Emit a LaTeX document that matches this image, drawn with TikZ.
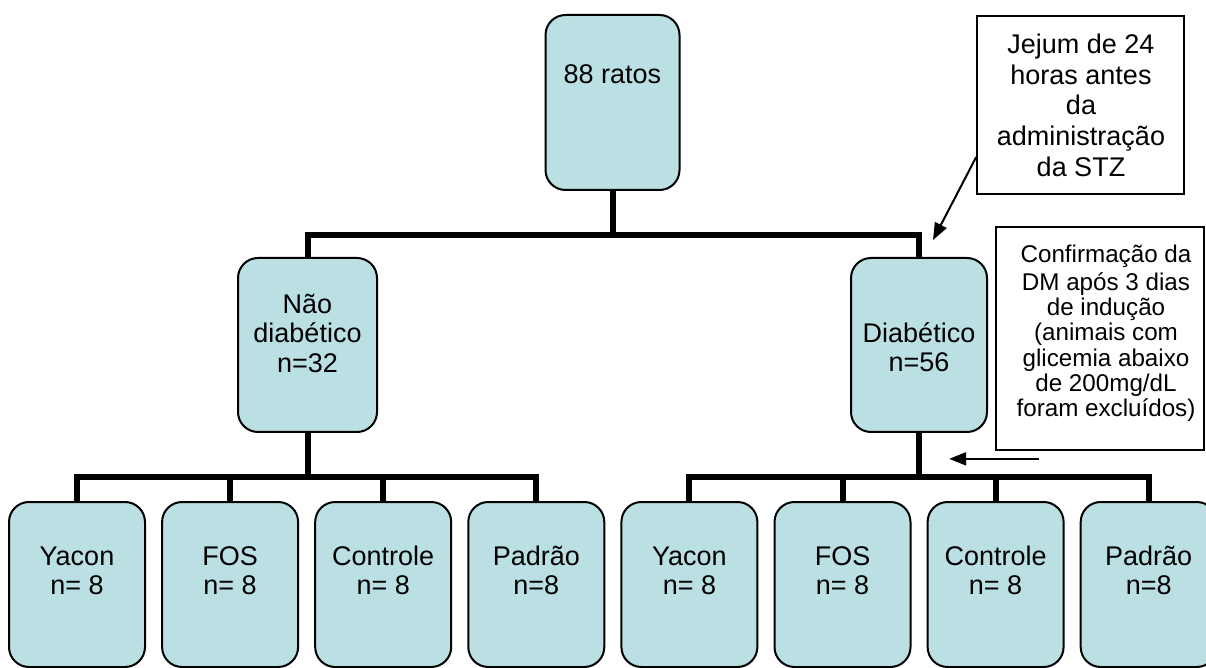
\documentclass[tikz,border=0pt]{standalone}
\usepackage{fontspec}
\setmainfont{Liberation Sans}
\usetikzlibrary{arrows.meta, calc, positioning}

\definecolor{boxfill}{RGB}{187,224,227}

\begin{document}
\begin{tikzpicture}[x=0.5pt, y=-0.5pt,
    grupo/.style={draw, line width=1pt, fill=boxfill, rounded corners=10pt, inner sep=0pt},
    rotulo/.style={anchor=north, align=center, inner sep=0pt, font=\fontsize{13.5}{14.75}\selectfont},
    nota/.style={draw, line width=0.85pt, inner sep=0pt},
    ligacao/.style={line width=3pt},
    seta/.style={line width=1pt, -{Triangle[length=8.5pt, width=6.5pt]}}]

    % Define the size of the group boxes
    \def\largura{68pt}
    \def\passo{153.1}

    % Fix the page and cut what goes past it
    \useasboundingbox (0,0) rectangle (1206,668);
    \clip (0,0) rectangle (1206,668);
    \fill[white] (0,0) rectangle (1206,668);

    % Draw the top box
    \node[grupo, minimum width=67pt, minimum height=87.5pt] (ratos) at (612.5,102.5) {};
    \node[rotulo] (ratos-txt) at (612.5,62.4) {\strut 88 ratos};

    % Draw the two middle boxes
    \node[grupo, minimum width=69.5pt, minimum height=87pt] (naod) at (307.5,345) {};
    \node[rotulo] (naod-txt) at (307.5,292.4) {\strut Não\\diabético\\n=32};
    \node[grupo, minimum width=\largura, minimum height=87pt] (diab) at (919,345) {};
    \node[rotulo] (diab-txt) at (919,321.4) {\strut Diabético\\n=56};

    % Draw the eight group boxes
    \foreach \i/\nome/\num in {1/Yacon/n= 8, 2/FOS/n= 8, 3/Controle/n= 8, 4/Padrão/n=8,
                               5/Yacon/n= 8, 6/FOS/n= 8, 7/Controle/n= 8, 8/Padrão/n=8} {
        \node[grupo, minimum width=\largura, minimum height=82.5pt] (g\i) at ({77+\passo*(\i-1)},584.5) {};
        \node[rotulo] (g\i-txt) at ({77+\passo*(\i-1)},544.4) {\strut\nome\\\num};
    }

    % Draw the tree lines
    \coordinate (topo) at (612.5,235);
    \coordinate (esq) at (307.5,477);
    \coordinate (dir) at (919,477);
    \draw[ligacao] (ratos.south) -- (topo);
    \draw[ligacao] (naod.north) |- (topo) -| (diab.north);
    \draw[ligacao] (naod.south) -- (esq);
    \draw[ligacao] (g1.north) |- (esq) -| (g4.north);
    \draw[ligacao] (g2.north) -- (g2.north |- esq);
    \draw[ligacao] (g3.north) -- (g3.north |- esq);
    \draw[ligacao] (diab.south) -- (dir);
    \draw[ligacao] (g5.north) |- (dir) -| (g8.north);
    \draw[ligacao] (g6.north) -- (g6.north |- dir);
    \draw[ligacao] (g7.north) -- (g7.north |- dir);

    % Draw the note boxes
    \node[nota, minimum width=103.5pt, minimum height=89pt] (jejum) at (1080.5,105) {};
    \node[rotulo, font=\fontsize{13.5}{15.4}\selectfont] (jejum-txt) at (1081,31.4)
        {\strut Jejum de 24\\horas antes\\da\\administração\\da STZ};
    \node[nota, minimum width=104pt, minimum height=111.5pt] (dm) at (1100,338.5) {};
    \node[rotulo, font=\fontsize{12.1}{12.65}\selectfont] (dm-txt) at (1106,244.7)
        {\strut Confirmação da\\DM após 3 dias\\de indução\\(animais com\\glicemia abaixo\\de 200mg/dL\\foram excluídos)};

    % Draw the arrows
    \coordinate (seta1) at (933,240);
    \draw[seta] ($(jejum.south west)!0.21!(jejum.north west)$) -- (seta1);
    \coordinate (dm-pe) at ($(dm.south west)+(44,8)$);
    \coordinate (seta2) at ($(dm-pe)+(-90,0)$);
    \draw[seta] (dm-pe) -- (seta2);

\end{tikzpicture}
\end{document}
